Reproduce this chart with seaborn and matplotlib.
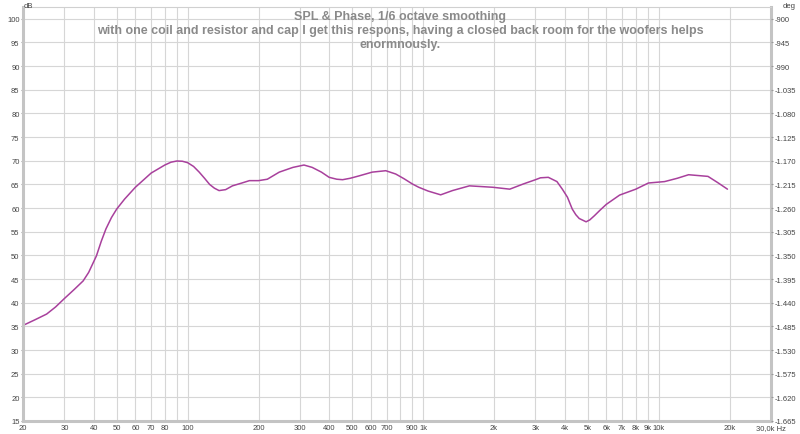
import numpy as np
import pandas as pd
import matplotlib
matplotlib.use("Agg")
import matplotlib.pyplot as plt
import seaborn as sns

# Frequency response (Hz, dB SPL)
freq = [20, 22.5, 25.2, 27.5, 30, 33, 36, 38, 41, 43, 45, 47.5, 50, 54, 60, 70,
        80, 85, 90, 95, 100, 106, 112, 118, 124, 130, 136, 145, 155, 170, 183,
        200, 218, 245, 280, 312, 338, 370, 399, 430, 455, 490, 534, 608, 694,
        765, 830, 900, 958, 1050, 1187, 1332, 1572, 1975, 2333, 2664, 3000,
        3150, 3400, 3700, 3900, 4100, 4297, 4450, 4600, 4920, 5100, 5340, 5650,
        6000, 6830, 8000, 9050, 10600, 12000, 13400, 16200, 17800, 19600]
spl = [35.2, 36.4, 37.6, 39.1, 40.9, 42.8, 44.6, 46.4, 49.9, 53.0, 55.6, 58.0,
       59.8, 61.9, 64.4, 67.4, 69.1, 69.7, 69.95, 69.9, 69.6, 68.8, 67.6, 66.3,
       65.0, 64.2, 63.7, 63.9, 64.7, 65.3, 65.8, 65.8, 66.1, 67.6, 68.6, 69.1,
       68.6, 67.6, 66.5, 66.1, 66.0, 66.3, 66.8, 67.6, 67.9, 67.2, 66.2, 65.1,
       64.4, 63.6, 62.8, 63.7, 64.7, 64.4, 64.0, 65.1, 66.0, 66.4, 66.5, 65.6,
       64.0, 62.3, 59.8, 58.6, 57.8, 57.1, 57.5, 58.4, 59.6, 60.8, 62.75, 64.0,
       65.3, 65.6, 66.3, 67.05, 66.7, 65.4, 64.0]

x_grid = [20, 30, 40, 50, 60, 70, 80, 90, 100, 200, 300, 400, 500, 600, 700,
          800, 900, 1000, 2000, 3000, 4000, 5000, 6000, 7000, 8000, 9000,
          10000, 20000]
x_labels = {20: "20", 30: "30", 40: "40", 50: "50", 60: "60", 70: "70", 80: "80",
            100: "100", 200: "200", 300: "300", 400: "400", 500: "500",
            600: "600", 700: "700", 900: "900", 1000: "1k", 2000: "2k",
            3000: "3k", 4000: "4k", 5000: "5k", 6000: "6k", 7000: "7k",
            8000: "8k", 9000: "9k", 10000: "10k", 20000: "20k", 30000: "30,0k Hz"}
db_ticks = list(range(15, 101, 5))

title = ("SPL & Phase, 1/6 octave smoothing\n"
         "with one coil and resistor and cap I get this respons, having a closed "
         "back room for the woofers helps\nenormnously.")

df = pd.DataFrame({"freq": freq, "spl": spl})

sns.set_style("white")
plt.rcParams["font.family"] = ["Liberation Sans", "DejaVu Sans"]

fig = plt.figure(figsize=(8, 4.35), dpi=100)
ax = fig.add_axes([0.02875, 0.0299, 0.935, 0.9517])

sns.lineplot(data=df, x="freq", y="spl", ax=ax, color="#a8409c", linewidth=1.1)

ax.set_xscale("log")
ax.set_xlim(20, 30000)
ax.set_ylim(15, 102.5)

# grid
for f in x_grid:
    ax.axvline(f, color="#d6d6d6", linewidth=0.8, zorder=0)
for d in db_ticks:
    ax.axhline(d, color="#d6d6d6", linewidth=0.8, zorder=0)

ax.set_xticks(list(x_labels.keys()))
ax.set_xticklabels(list(x_labels.values()))
ax.xaxis.set_minor_locator(matplotlib.ticker.NullLocator())
ax.set_yticks(db_ticks)
ax.set_yticklabels([str(d) for d in db_ticks])
ax.tick_params(axis="both", labelsize=5.5, labelcolor="#444444", length=1.5,
               color="#999999", pad=1)
ax.set_xlabel("")
ax.set_ylabel("")

for side in ["left", "right", "bottom"]:
    ax.spines[side].set_color("#c4c4c4")
    ax.spines[side].set_linewidth(2.2)
ax.spines["top"].set_color("#d0d0d0")
ax.spines["top"].set_linewidth(0.8)

# phase axis on the right
ax2 = ax.twinx()
deg_lo = -900 - (100 - 15) * 9
deg_hi = -900 + (102.5 - 100) * 9
ax2.set_ylim(deg_lo, deg_hi)
deg_ticks = [-900 - (100 - d) * 9 for d in db_ticks]
ax2.set_yticks(deg_ticks)
ax2.set_yticklabels([f"{t:,}".replace(",", ".") for t in deg_ticks])
ax2.tick_params(axis="y", labelsize=5.5, labelcolor="#444444", length=1.5,
                color="#999999", pad=1)
for s in ax2.spines.values():
    s.set_visible(False)

fig.text(0.03, 0.993, "dB", fontsize=5.5, color="#444444", ha="left", va="top")
fig.text(0.978, 0.993, "deg", fontsize=5.5, color="#444444", ha="left", va="top")

fig.text(0.5, 0.975, title, ha="center", va="top", fontsize=9.0,
         fontweight="bold", color="#8a8a8a", linespacing=1.22)

fig.savefig("out.png", dpi=100)
